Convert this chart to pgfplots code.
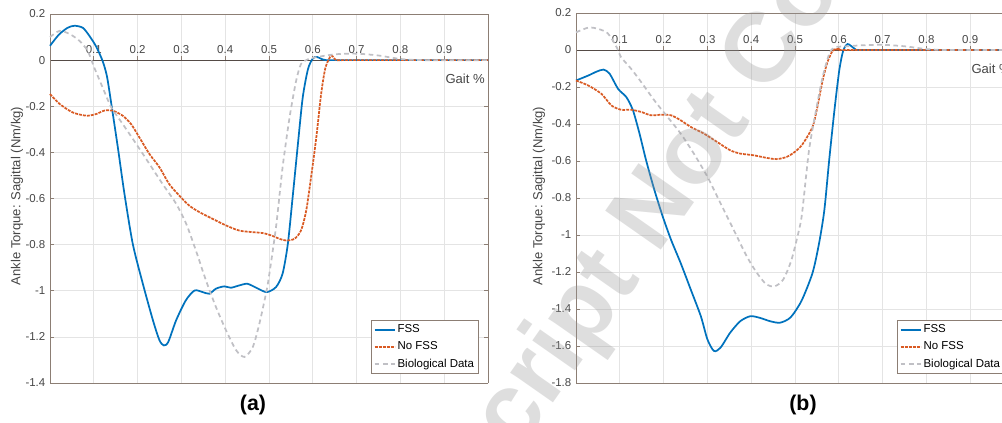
\documentclass[border=0pt]{standalone}
\usepackage{fontspec}
\setmainfont{Liberation Sans}
\usepackage{pgfplots}
\pgfplotsset{compat=1.18}
\definecolor{fsscol}{RGB}{0,114,189}
\definecolor{nofsscol}{RGB}{217,90,35}
\definecolor{biocol}{RGB}{192,192,197}
\definecolor{boxcol}{RGB}{140,126,116}
\definecolor{zerocol}{RGB}{85,75,70}
\definecolor{ticktext}{RGB}{70,70,70}
\definecolor{gridcol}{RGB}{228,228,228}

\pgfplotsset{
  gaitaxis/.style={
    scale only axis, width=328.5pt,
    xmin=0, xmax=1,
    xtick={0.1,0.2,0.3,0.4,0.5,0.6,0.7,0.8,0.9},
    axis x line*=middle, axis y line*=box,
    axis line style={boxcol, line width=0.6pt},
    x axis line style={zerocol},
    tick style={boxcol, line width=0.5pt},
    major tick length=3pt,
    tick align=inside,
    grid=major, grid style={gridcol, line width=0.5pt},
    /pgf/number format/assume math mode=true,
    tick label style={font=\fontsize{8.6}{10}\selectfont, text=ticktext},
    xticklabel style={anchor=south, yshift=1.5pt},
    legend style={at={(1,0)}, anchor=south east, xshift=-6.75pt, yshift=6.75pt,
      draw=boxcol, fill=white, font=\fontsize{8.6}{10}\selectfont,
      inner xsep=2pt, inner ysep=2pt, row sep=2.2pt,
      nodes={inner sep=1.5pt}},
    legend cell align=left,
    legend image code/.code={\draw[##1] (0pt,0pt) -- (15pt,0pt);},
    clip=false,
  },
  fssline/.style={fsscol, line width=1.3pt, smooth, tension=0.45},
  nofssline/.style={nofsscol, line width=1.3pt, dash pattern=on 2.2pt off 0.8pt, smooth, tension=0.45},
  bioline/.style={biocol, line width=1.3pt, dash pattern=on 3.5pt off 2.6pt, smooth, tension=0.45},
}

\begin{document}
\begin{tikzpicture}[x=0.75pt,y=0.75pt]
\path[use as bounding box] (0,0) rectangle (1002,423);
\clip (0,0) rectangle (1002,423);

% (a)
\begin{axis}[gaitaxis, at={(37.5pt,30pt)}, anchor=south west, height=276.75pt,
  ymin=-1.4, ymax=0.2, ytick={-1.4,-1.2,-1,-0.8,-0.6,-0.4,-0.2,0,0.2}]
  \addplot[fssline] coordinates {
    (0,0.062) (0.02,0.11) (0.04,0.14) (0.056,0.149) (0.075,0.14) (0.09,0.105)
    (0.105,0.06) (0.12,-0.003) (0.13,-0.07) (0.14,-0.19) (0.155,-0.38) (0.17,-0.58)
    (0.189,-0.797) (0.212,-0.97) (0.235,-1.128) (0.25,-1.215) (0.26,-1.237)
    (0.27,-1.222) (0.288,-1.128) (0.31,-1.042) (0.33,-0.999) (0.349,-1.006)
    (0.364,-1.013) (0.379,-0.991) (0.398,-0.981) (0.413,-0.987) (0.432,-0.977)
    (0.451,-0.97) (0.474,-0.99) (0.495,-1.006) (0.516,-0.984) (0.531,-0.926)
    (0.543,-0.797) (0.554,-0.594) (0.566,-0.364) (0.577,-0.162) (0.589,-0.039)
    (0.6,0.007) (0.609,0.014) (0.62,0.005) (0.63,0) (0.65,0) (0.8,0) (1,0)
  };
  \addlegendentry{FSS}
  \addplot[nofssline] coordinates {
    (0,-0.147) (0.022,-0.19) (0.052,-0.227) (0.083,-0.241) (0.105,-0.234)
    (0.124,-0.219) (0.143,-0.219) (0.166,-0.241) (0.185,-0.277) (0.204,-0.335)
    (0.227,-0.407) (0.25,-0.465) (0.272,-0.537) (0.295,-0.587) (0.318,-0.631)
    (0.341,-0.659) (0.371,-0.688) (0.402,-0.717) (0.432,-0.739) (0.463,-0.746)
    (0.486,-0.75) (0.505,-0.76) (0.524,-0.775) (0.539,-0.782) (0.558,-0.775)
    (0.573,-0.739) (0.585,-0.652) (0.596,-0.508) (0.608,-0.335) (0.619,-0.147)
    (0.629,-0.032) (0.642,0.019) (0.653,0) (0.67,0) (0.8,0) (1,0)
  };
  \addlegendentry{No FSS}
  \addplot[bioline] coordinates {
    (0,0.1) (0.022,0.127) (0.045,0.113) (0.067,0.084) (0.086,0.04) (0.101,-0.032)
    (0.12,-0.118) (0.14,-0.205) (0.166,-0.277) (0.197,-0.364) (0.227,-0.45)
    (0.257,-0.537) (0.288,-0.623) (0.311,-0.71) (0.333,-0.825) (0.356,-0.955)
    (0.379,-1.071) (0.402,-1.172) (0.425,-1.258) (0.444,-1.287) (0.463,-1.244)
    (0.478,-1.143) (0.493,-1.013) (0.499,-0.95) (0.516,-0.724) (0.531,-0.465)
    (0.547,-0.248) (0.562,-0.089) (0.573,-0.017) (0.585,0) (0.6,0.01) (0.65,0.025)
    (0.7,0.028) (0.75,0.02) (0.8,0.005) (0.85,0) (1,0)
  };
  \addlegendentry{Biological Data}
  \draw[boxcol, line width=0.6pt] (rel axis cs:0,1) -- (rel axis cs:1,1)
    (rel axis cs:0,0) -- (rel axis cs:1,0);
  \node[anchor=north east, inner sep=0pt, font=\fontsize{9.8}{11}\selectfont, text=ticktext]
    at (axis cs:1,0) [xshift=-2.25pt, yshift=-10.5pt] {Gait \%};
\end{axis}

% (b)
\begin{axis}[gaitaxis, at={(432pt,30pt)}, anchor=south west, height=277.5pt,
  ymin=-1.8, ymax=0.2, ytick={-1.8,-1.6,-1.4,-1.2,-1,-0.8,-0.6,-0.4,-0.2,0,0.2}]
  \addplot[fssline] coordinates {
    (0,-0.165) (0.028,-0.138) (0.047,-0.117) (0.063,-0.106) (0.077,-0.129)
    (0.096,-0.21) (0.115,-0.255) (0.13,-0.326) (0.145,-0.452) (0.16,-0.596)
    (0.179,-0.757) (0.198,-0.9) (0.217,-1.026) (0.239,-1.152) (0.262,-1.295)
    (0.285,-1.439) (0.3,-1.564) (0.315,-1.627) (0.33,-1.609) (0.352,-1.528)
    (0.375,-1.466) (0.398,-1.439) (0.42,-1.448) (0.443,-1.466) (0.466,-1.474)
    (0.49,-1.445) (0.515,-1.355) (0.54,-1.205) (0.555,-1.044) (0.567,-0.865)
    (0.578,-0.596) (0.59,-0.326) (0.601,-0.111) (0.61,-0.004) (0.62,0.032)
    (0.632,0.014) (0.64,0) (0.66,0) (0.8,0) (1,0)
  };
  \addlegendentry{FSS}
  \addplot[nofssline] coordinates {
    (0,-0.165) (0.028,-0.192) (0.058,-0.237) (0.081,-0.3) (0.103,-0.323)
    (0.126,-0.323) (0.149,-0.335) (0.171,-0.353) (0.194,-0.35) (0.217,-0.353)
    (0.239,-0.38) (0.262,-0.416) (0.292,-0.452) (0.322,-0.497) (0.352,-0.542)
    (0.375,-0.56) (0.405,-0.569) (0.435,-0.583) (0.458,-0.59) (0.481,-0.578)
    (0.5,-0.55) (0.517,-0.51) (0.54,-0.416) (0.551,-0.309) (0.563,-0.165)
    (0.574,-0.066) (0.586,-0.004) (0.597,0.005) (0.61,0) (0.8,0) (1,0)
  };
  \addlegendentry{No FSS}
  \addplot[bioline] coordinates {
    (0,0.095) (0.032,0.122) (0.07,0.095) (0.093,0.014) (0.103,-0.039)
    (0.126,-0.102) (0.149,-0.174) (0.179,-0.273) (0.209,-0.362) (0.239,-0.452)
    (0.269,-0.56) (0.3,-0.685) (0.33,-0.829) (0.36,-0.972) (0.39,-1.116)
    (0.413,-1.205) (0.435,-1.268) (0.454,-1.277) (0.473,-1.241) (0.492,-1.134)
    (0.511,-0.954) (0.517,-0.865) (0.532,-0.542) (0.548,-0.326) (0.563,-0.147)
    (0.578,-0.022) (0.59,0.014) (0.62,0.02) (0.65,0.025) (0.7,0.028) (0.75,0.02)
    (0.8,0.005) (0.85,0) (1,0)
  };
  \addlegendentry{Biological Data}
  \draw[boxcol, line width=0.6pt] (rel axis cs:0,1) -- (rel axis cs:1,1)
    (rel axis cs:0,0) -- (rel axis cs:1,0);
  \node[anchor=north east, inner sep=0pt, font=\fontsize{9.8}{11}\selectfont, text=ticktext]
    at (axis cs:1,0) [xshift=-2.25pt, yshift=-10.5pt] {Gait \%};
\end{axis}

\node[rotate=90, font=\fontsize{9.8}{11}\selectfont, text=ticktext] at (17,227)
  {Ankle Torque: Sagittal (Nm/kg)};
\node[rotate=90, font=\fontsize{9.8}{11}\selectfont, text=ticktext] at (539,227)
  {Ankle Torque: Sagittal (Nm/kg)};
\node[font=\bfseries\fontsize{16}{18}\selectfont] at (253,18.5) {(a)};
\node[font=\bfseries\fontsize{16}{18}\selectfont] at (803,18.5) {(b)};

% watermark of the source
\begin{scope}[font=\bfseries\fontsize{74}{80}\selectfont, text=black!40, text opacity=0.32]
  \node[rotate=55, inner sep=0pt] (wmnot) at (677,254.5) {Not};
  \node[rotate=55, inner sep=0pt, anchor=base east] at (wmnot.base west)
    {Accepted Manuscript\hspace*{0.28em}};
  \node[rotate=55, inner sep=0pt, anchor=base west] at (wmnot.base east)
    {\hspace*{0.28em}Copyedited};
\end{scope}
\end{tikzpicture}
\end{document}
